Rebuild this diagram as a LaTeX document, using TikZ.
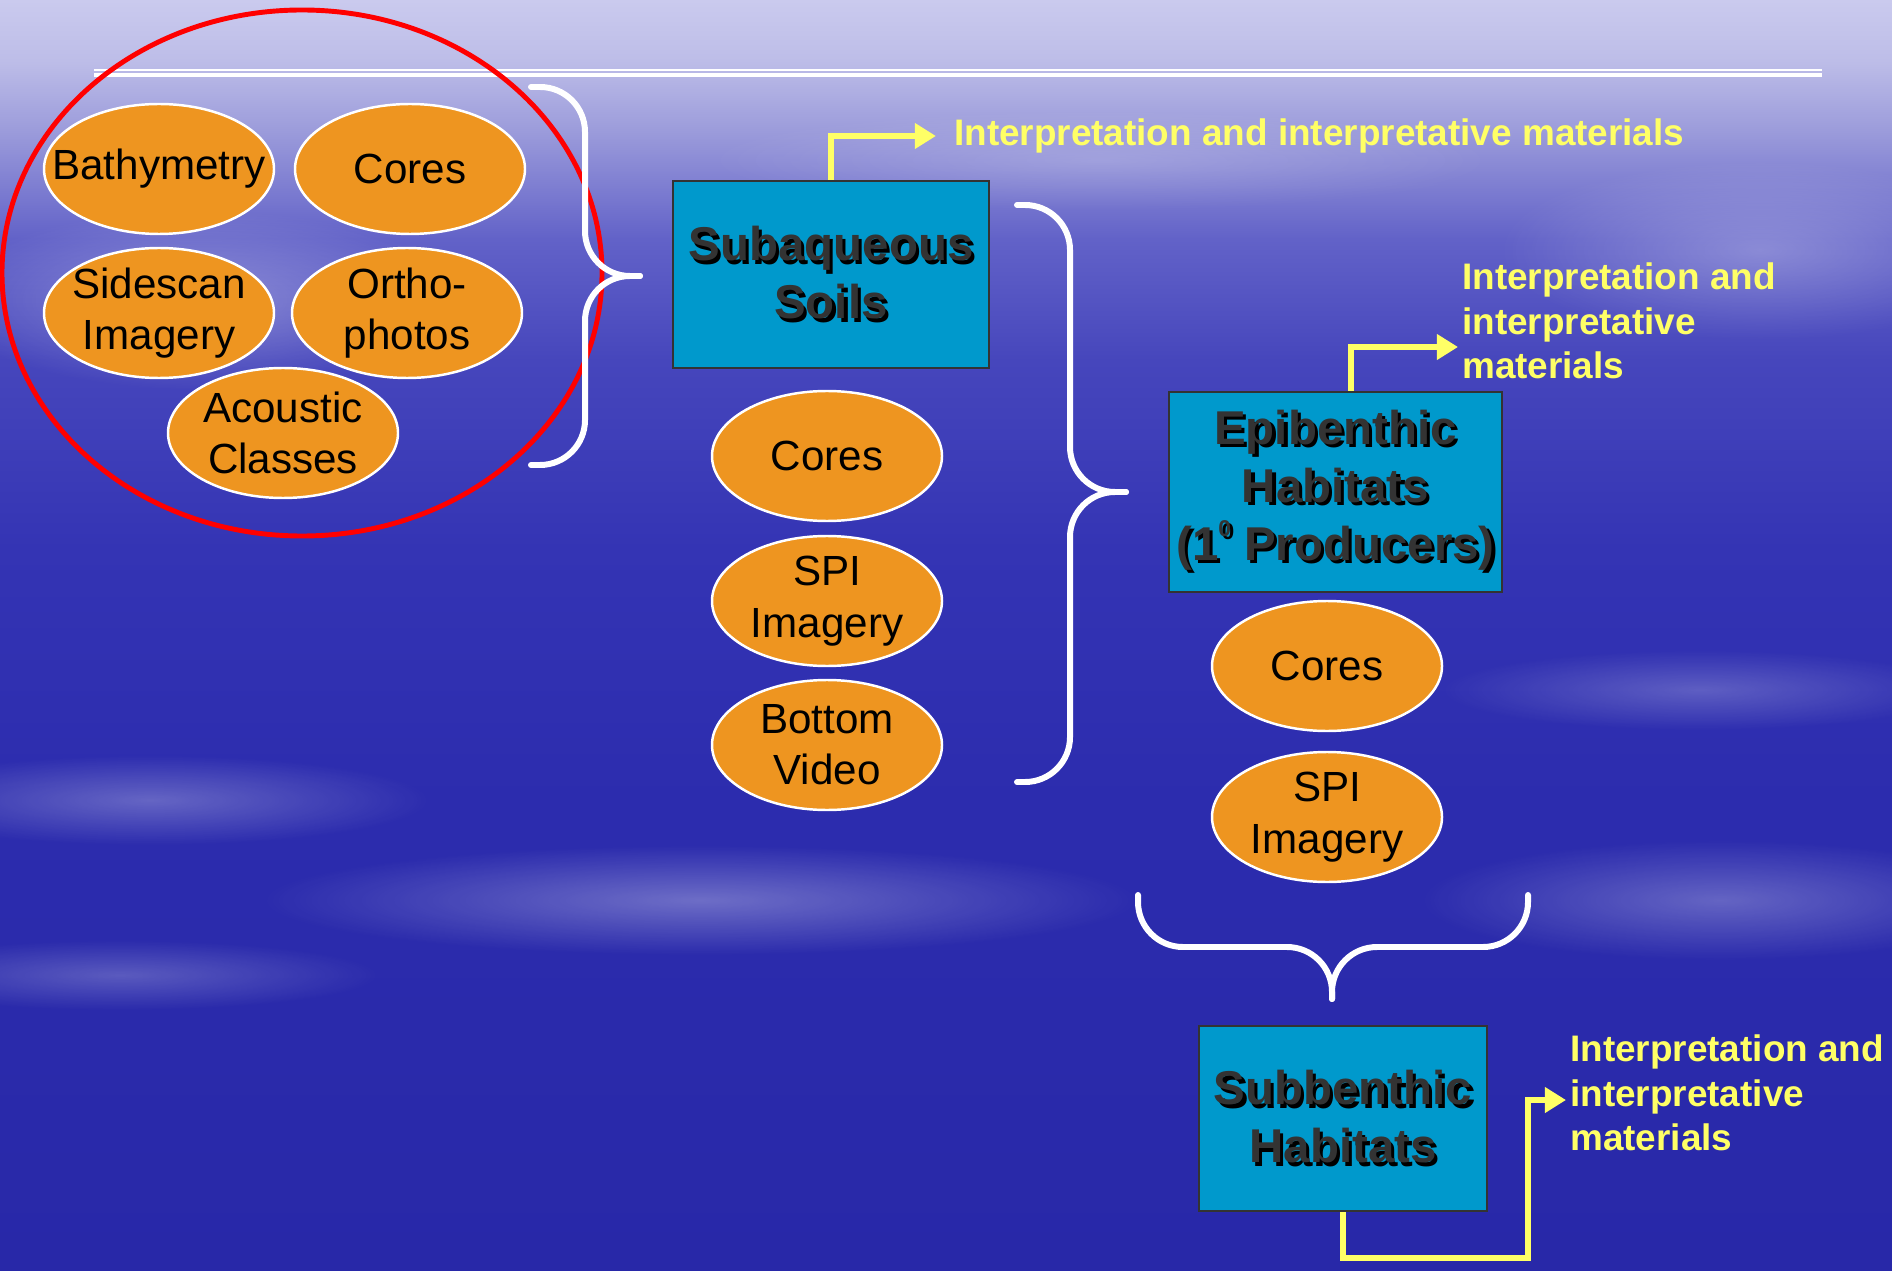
\documentclass[tikz,border=0pt]{standalone}
\usepackage{fontspec}
\setmainfont{Liberation Sans}
\usetikzlibrary{shapes.geometric,arrows.meta,fadings}

\definecolor{skyA}{HTML}{CACAEE}
\definecolor{skyB}{HTML}{BDBDE8}
\definecolor{skyC}{HTML}{9C9CDB}
\definecolor{skyD}{HTML}{6262C8}
\definecolor{skyE}{HTML}{4646BC}
\definecolor{skyF}{HTML}{3434B4}
\definecolor{skyG}{HTML}{2C2CAE}
\definecolor{skyH}{HTML}{2828A8}
\definecolor{ochre}{HTML}{EE9520}
\definecolor{pool}{HTML}{0099CC}
\definecolor{ink}{HTML}{333333}
\definecolor{lemon}{HTML}{FFFF66}

\pgfdeclareverticalshading{sky}{100bp}{color(0bp)=(skyH); color(25bp)=(skyH); color(43.5bp)=(skyG); color(53.4bp)=(skyF); color(60.8bp)=(skyE); color(65.6bp)=(skyD); color(69.9bp)=(skyC); color(72.6bp)=(skyB); color(75bp)=(skyA); color(100bp)=(skyA)}

\tikzfading[name=wisp, inner color=transparent!10, outer color=transparent!100]

\newcommand{\shd}[1]{\rlap{\kern0.9pt\raisebox{-0.9pt}{\textcolor{black}{#1}}}#1}
\newcommand{\ordzero}{\raisebox{0.52em}{\fontsize{6.5}{6.5}\selectfont 0}}

\tikzset{
  obs/.style={ellipse, fill=ochre, draw=white, line width=0.7pt,
    minimum width=2.30cm, minimum height=1.30cm,
    inner xsep=-14pt, inner ysep=-6pt,
    align=center, font=\fontsize{12}{14.6}\selectfont},
  unit/.style={rectangle, fill=pool, draw=ink, line width=0.8pt,
    inner xsep=1pt, align=center, text=ink,
    font=\fontsize{13.5}{16.5}\selectfont\bfseries},
  interp/.style={anchor=west, align=left, text=lemon, inner sep=1pt,
    font=\fontsize{10.5}{12.7}\selectfont\bfseries},
  yarrow/.style={draw=lemon, line width=1.7pt, -{Triangle[length=6pt,width=7pt]}},
  curly/.style={draw=white, line width=1.7pt, rounded corners=0.45cm, line cap=round},
  haze/.style={fill=white, path fading=wisp, opacity=#1}
}

\begin{document}
\begin{tikzpicture}

\useasboundingbox (0,0) rectangle (18.92,-12.71);

\shade[shading=sky] (0,0) rectangle (18.92,-12.71);

\fill[haze=0.35] (2.0,-3.0) ellipse [x radius=2.6, y radius=0.9];
\fill[haze=0.30] (1.5,-8.0) ellipse [x radius=2.8, y radius=0.45];
\fill[haze=0.35] (7.0,-9.0) ellipse [x radius=4.4, y radius=0.55];
\fill[haze=0.25] (1.2,-9.75) ellipse [x radius=2.6, y radius=0.35];
\fill[haze=0.30] (17.6,-2.5) ellipse [x radius=2.6, y radius=0.9];
\fill[haze=0.25] (17.0,-6.9) ellipse [x radius=2.6, y radius=0.4];
\fill[haze=0.30] (17.2,-9.0) ellipse [x radius=3.0, y radius=0.6];
\fill[haze=0.20] (11.0,-1.6) ellipse [x radius=4.0, y radius=0.5];

\draw[white, line width=0.6pt] (0.94,-0.70) -- (18.22,-0.70);
\draw[white, line width=1pt] (0.94,-0.75) -- (18.22,-0.75);

\draw[red, line width=1.4pt] (3.02,-2.73) ellipse [x radius=3.0, y radius=2.63];

\node[obs]
(bathy)
at (1.59,-1.69)
{Bathymetry};

\node[obs]
(coresA)
at (4.10,-1.69)
{Cores};

\node[obs]
(side)
at (1.59,-3.13)
{Sidescan\\Imagery};

\node[obs]
(ortho)
at (4.07,-3.13)
{Ortho-\\photos};

\node[obs]
(acou)
at (2.83,-4.33)
{Acoustic\\Classes};

\draw[curly] (5.31,-0.87) -| (5.85,-2.76) -- (6.40,-2.76);
\draw[curly] (6.40,-2.76) -| (5.85,-4.65) -- (5.31,-4.65);

\node[unit, minimum width=3.16cm, minimum height=1.87cm]
(sub)
at (8.31,-2.745)
{\shd{Subaqueous}\\\shd{Soils}};

\node[interp]
(tx1)
at (9.50,-1.36)
{Interpretation and interpretative materials};

\draw[yarrow, shorten >=4pt] (sub.north) |- (tx1.west);

\node[obs]
(coresB)
at (8.27,-4.56)
{Cores};

\node[obs]
(spiB)
at (8.27,-6.01)
{SPI\\Imagery};

\node[obs]
(video)
at (8.27,-7.45)
{Bottom\\Video};

\draw[curly] (10.17,-2.05) -| (10.70,-4.92) -- (11.26,-4.92);
\draw[curly] (11.26,-4.92) -| (10.70,-7.82) -- (10.17,-7.82);

\node[unit, minimum width=3.33cm, minimum height=2.00cm]
(epi)
at (13.355,-4.92)
{\shd{Epibenthic}\\\shd{Habitats}\\\shd{(1\ordzero{} Producers)}};

\node[interp]
(tx2)
at (14.58,-3.21)
{Interpretation and\\interpretative\\materials};

\draw[yarrow] (epi.north) ++(0.15,0) |- ([yshift=-0.26cm]tx2.west);

\node[obs]
(coresC)
at (13.27,-6.66)
{Cores};

\node[obs]
(spiC)
at (13.27,-8.17)
{SPI\\Imagery};

\draw[curly] (11.38,-8.95) |- (13.32,-9.47) -- (13.32,-9.99);
\draw[curly] (15.28,-8.95) |- (13.32,-9.47) -- (13.32,-9.99);

\node[unit, minimum width=2.88cm, minimum height=1.85cm]
(subb)
at (13.43,-11.185)
{\shd{Subbenthic}\\\shd{Habitats}};

\node[interp]
(tx3)
at (15.66,-10.93)
{Interpretation and\\interpretative\\materials};

\coordinate (bend3) at (15.28,-12.58);

\draw[yarrow] (subb.south) |- (bend3) |- ([yshift=-0.07cm]tx3.west);

\end{tikzpicture}
\end{document}
